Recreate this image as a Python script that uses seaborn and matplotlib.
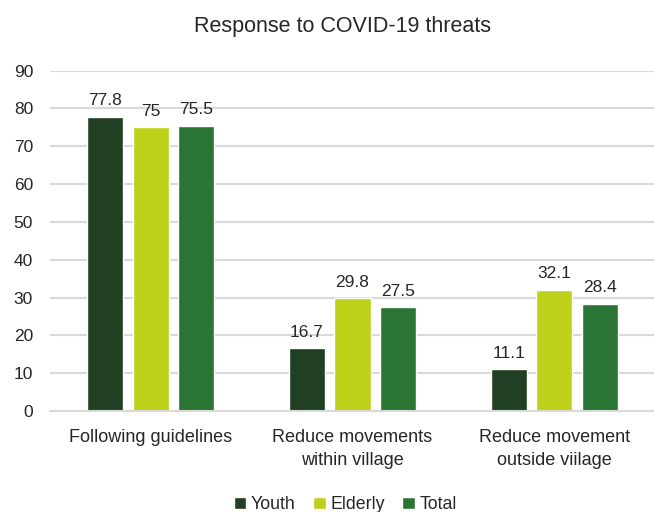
import matplotlib
matplotlib.use("Agg")
import matplotlib.pyplot as plt
import seaborn as sns
import pandas as pd

categories = ["Following guidelines", "Reduce movements\nwithin village", "Reduce movement\noutside viilage"]
groups = ["Youth", "Elderly", "Total"]
youth = [77.8, 16.7, 11.1]
elderly = [75, 29.8, 32.1]
total = [75.5, 27.5, 28.4]
yticks = [0, 10, 20, 30, 40, 50, 60, 70, 80, 90]

colors = ["#213F23", "#BDD11A", "#2B7534"]

rows = []
for cat, y, e, t in zip(categories, youth, elderly, total):
    for g, v in zip(groups, (y, e, t)):
        rows.append({"category": cat, "group": g, "value": v})
df = pd.DataFrame(rows)

sns.set_theme(style="white")
plt.rcParams["font.family"] = ["Liberation Sans", "DejaVu Sans"]
text_color = "#262626"

fig = plt.figure(figsize=(6.54, 5.12), dpi=100)
ax = fig.add_axes([0.076, 0.197, 0.926, 0.665])

sns.barplot(data=df, x="category", y="value", hue="group", palette=colors,
            width=0.68, gap=0.21, ax=ax, saturation=1, legend=True)

for container in ax.containers:
    labels = [f"{v:g}" for v in container.datavalues]
    ax.bar_label(container, labels=labels, padding=6, fontsize=12.5, color=text_color)

ax.set_ylim(0, 90)
ax.set_xlim(-0.5, 2.5)
ax.set_yticks(yticks)
ax.yaxis.grid(True, color="#D9D9D9", linewidth=1.5)
ax.set_axisbelow(True)
ax.set_xlabel("")
ax.set_ylabel("")
for side in ["left", "right", "top"]:
    ax.spines[side].set_visible(False)
ax.spines["bottom"].set_color("#D9D9D9")
ax.spines["bottom"].set_linewidth(1.5)
ax.tick_params(axis="both", length=0, labelsize=12.5, colors=text_color)
ax.tick_params(axis="x", pad=13)
ax.tick_params(axis="y", pad=12)
for lbl in ax.get_xticklabels():
    lbl.set_fontsize(13)
    lbl.set_linespacing(1.45)

ax.set_title("Response to COVID-19 threats", fontsize=15.5, color=text_color, pad=28, x=0.483)

handles, labels = ax.get_legend_handles_labels()
ax.legend_.remove()
fig.legend(handles, labels, loc="lower center", bbox_to_anchor=(0.528, -0.034), ncol=3,
           frameon=False, fontsize=12.8, handlelength=0.7, handleheight=0.7,
           handletextpad=0.25, columnspacing=1.0, labelcolor=text_color)

fig.savefig("out.png", dpi=100)
